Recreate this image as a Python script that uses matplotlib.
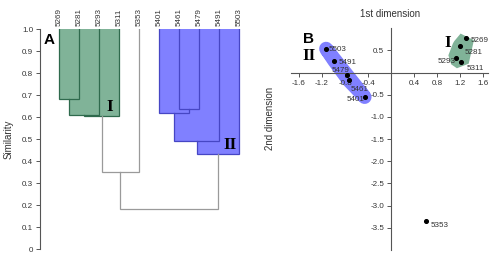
import numpy as np
import matplotlib
matplotlib.use('Agg')
import matplotlib.pyplot as plt
from matplotlib.patches import Rectangle, Polygon

plt.rcParams['font.family'] = ['Liberation Sans', 'DejaVu Sans']
plt.rcParams['axes.unicode_minus'] = False

# ---- data ----
leaves = ['5269', '5281', '5293', '5311', '5353', '5401', '5461', '5479', '5491', '5503']
# merges: (child a, child b, similarity, group); ids >= 10 are earlier merges
merge_a = [0, 10, 11, 6, 5, 14, 15, 12, 17]
merge_b = [1, 2, 3, 7, 13, 8, 9, 4, 16]
merge_h = [0.68, 0.61, 0.605, 0.635, 0.62, 0.49, 0.43, 0.35, 0.18]
merge_g = ['I', 'I', 'I', 'II', 'II', 'II', 'II', None, None]

labels_b = ['5269', '5281', '5293', '5311', '5353', '5401', '5461', '5479', '5491', '5503']
dim1 = [1.31, 1.20, 1.12, 1.22, 0.61, -0.46, -0.74, -0.77, -0.99, -1.13]
dim2 = [0.77, 0.60, 0.33, 0.24, -3.34, -0.55, -0.17, -0.06, 0.27, 0.54]
group_b = ['I', 'I', 'I', 'I', None, 'II', 'II', 'II', 'II', 'II']

fill = {'I': '#80b398', 'II': '#8080ff'}
edge = {'I': '#2f6a4d', 'II': '#4646c4'}
grey = '#9a9a9a'
txt = '#333333'

fig = plt.figure(figsize=(5, 2.58), dpi=100)
W, H = 500, 258

# ---------------- panel A : dendrogram ----------------
axA = fig.add_axes([40 / W, 9 / H, 210 / W, 220 / H])
n = len(leaves)
pos = {i: float(i) for i in range(n)}
top = {i: 1.0 for i in range(n)}

for k in range(len(merge_h)):
    a, b, h, g = merge_a[k], merge_b[k], merge_h[k], merge_g[k]
    xa, xb = pos[a], pos[b]
    x1, x2 = min(xa, xb), max(xa, xb)
    if g:
        axA.add_patch(Rectangle((x1, h), x2 - x1, 1 - h, facecolor=fill[g],
                                edgecolor='none', zorder=1))
    pos[n + k] = (xa + xb) / 2
    top[n + k] = h

for k in range(len(merge_h)):
    a, b, h, g = merge_a[k], merge_b[k], merge_h[k], merge_g[k]
    c = edge[g] if g else grey
    axA.plot([pos[a], pos[a], pos[b], pos[b]], [top[a], h, h, top[b]],
             color=c, lw=0.9, zorder=2, solid_joinstyle='miter')

axA.set_xlim(-0.95, 9.55)
axA.set_ylim(0, 1)
for s in ['top', 'right', 'bottom']:
    axA.spines[s].set_visible(False)
axA.spines['left'].set_color('#555555')
axA.spines['left'].set_linewidth(0.8)
axA.set_xticks([])
yt = np.arange(0, 1.01, 0.1)
axA.set_yticks(yt)
axA.set_yticklabels(['0'] + ['%.1f' % v for v in yt[1:]])
axA.tick_params(axis='y', labelsize=5.8, colors='#555555', labelcolor=txt,
                length=3, width=0.7, pad=2)
axA.set_ylabel('Similarity', fontsize=7, color=txt, labelpad=6)
for i, lab in enumerate(leaves):
    axA.text(i, 1.015, lab, rotation=90, ha='center', va='bottom',
             fontsize=5.8, color=txt, clip_on=False)
axA.text(-0.47, 0.95, 'A', fontsize=11, fontweight='bold', ha='center', va='center')
axA.text(2.55, 0.645, 'I', family='Liberation Serif', fontsize=12.5,
         fontweight='bold', ha='center', va='center', zorder=3)
axA.text(8.55, 0.473, 'II', family='Liberation Serif', fontsize=12.5,
         fontweight='bold', ha='center', va='center', zorder=3)

# ---------------- panel B : ordination ----------------
axB = fig.add_axes([291 / W, 8 / H, 197.3 / W, 221.7 / H])
axB.set_xlim(-1.74, 1.69)
axB.set_ylim(-4, 1)


def hull(pts):
    pts = sorted(pts)
    def cross(o, a, b):
        return (a[0] - o[0]) * (b[1] - o[1]) - (a[1] - o[1]) * (b[0] - o[0])
    lo, up = [], []
    for p in pts:
        while len(lo) >= 2 and cross(lo[-2], lo[-1], p) <= 0:
            lo.pop()
        lo.append(p)
    for p in reversed(pts):
        while len(up) >= 2 and cross(up[-2], up[-1], p) <= 0:
            up.pop()
        up.append(p)
    return lo[:-1] + up[:-1]


for g, lw, js in [('I', 11, 'bevel'), ('II', 10, 'round')]:
    pts = [(dim1[i], dim2[i]) for i in range(len(dim1)) if group_b[i] == g]
    axB.add_patch(Polygon(hull(pts), closed=True, facecolor=fill[g],
                          edgecolor=fill[g], lw=lw, joinstyle=js, zorder=1))

axB.scatter(dim1, dim2, s=7, color='black', zorder=3)

# label offsets in pixels (dx, dy) and alignment
offs = {'5269': (4, -2, 'left'), '5281': (5, -6, 'left'), '5293': (0, -3, 'right'),
        '5311': (5, -7, 'left'), '5353': (4, -5, 'left'), '5401': (0, -2, 'right'),
        '5461': (2, -9, 'left'), '5479': (3, 5, 'right'), '5491': (4, -2, 'left'),
        '5503': (3, -1, 'left')}
for i, lab in enumerate(labels_b):
    dx, dy, ha = offs[lab]
    axB.annotate(lab, (dim1[i], dim2[i]), xytext=(dx * 0.72, dy * 0.72),
                 textcoords='offset points', ha=ha, va='center',
                 fontsize=5.8, color=txt, zorder=4)

for s in ['top', 'right']:
    axB.spines[s].set_visible(False)
for s in ['left', 'bottom']:
    axB.spines[s].set_position('zero')
    axB.spines[s].set_color('#555555')
    axB.spines[s].set_linewidth(0.8)
xt = [-1.6, -1.2, -0.8, -0.4, 0.4, 0.8, 1.2, 1.6]
axB.set_xticks(xt)
axB.set_xticklabels(['%.1f' % v for v in xt])
ytb = [0.5, -0.5, -1.0, -1.5, -2.0, -2.5, -3.0, -3.5]
axB.set_yticks(ytb)
axB.set_yticklabels(['%.1f' % v for v in ytb])
axB.tick_params(labelsize=5.8, colors='#555555', labelcolor=txt,
                length=3, width=0.7, pad=2)
axB.text(0.5, 1.065, '1st dimension', transform=axB.transAxes, ha='center',
         va='center', fontsize=7, color=txt)
fig.text(270 / W, 140 / H, '2nd dimension', rotation=90, ha='center',
         va='center', fontsize=7, color=txt)
axB.text(-1.43, 0.75, 'B', fontsize=11, fontweight='bold', ha='center', va='center')
axB.text(-1.42, 0.37, 'II', family='Liberation Serif', fontsize=12.5,
         fontweight='bold', ha='center', va='center')
axB.text(0.99, 0.67, 'I', family='Liberation Serif', fontsize=12.5,
         fontweight='bold', ha='center', va='center')

fig.savefig('out.png', dpi=100)
